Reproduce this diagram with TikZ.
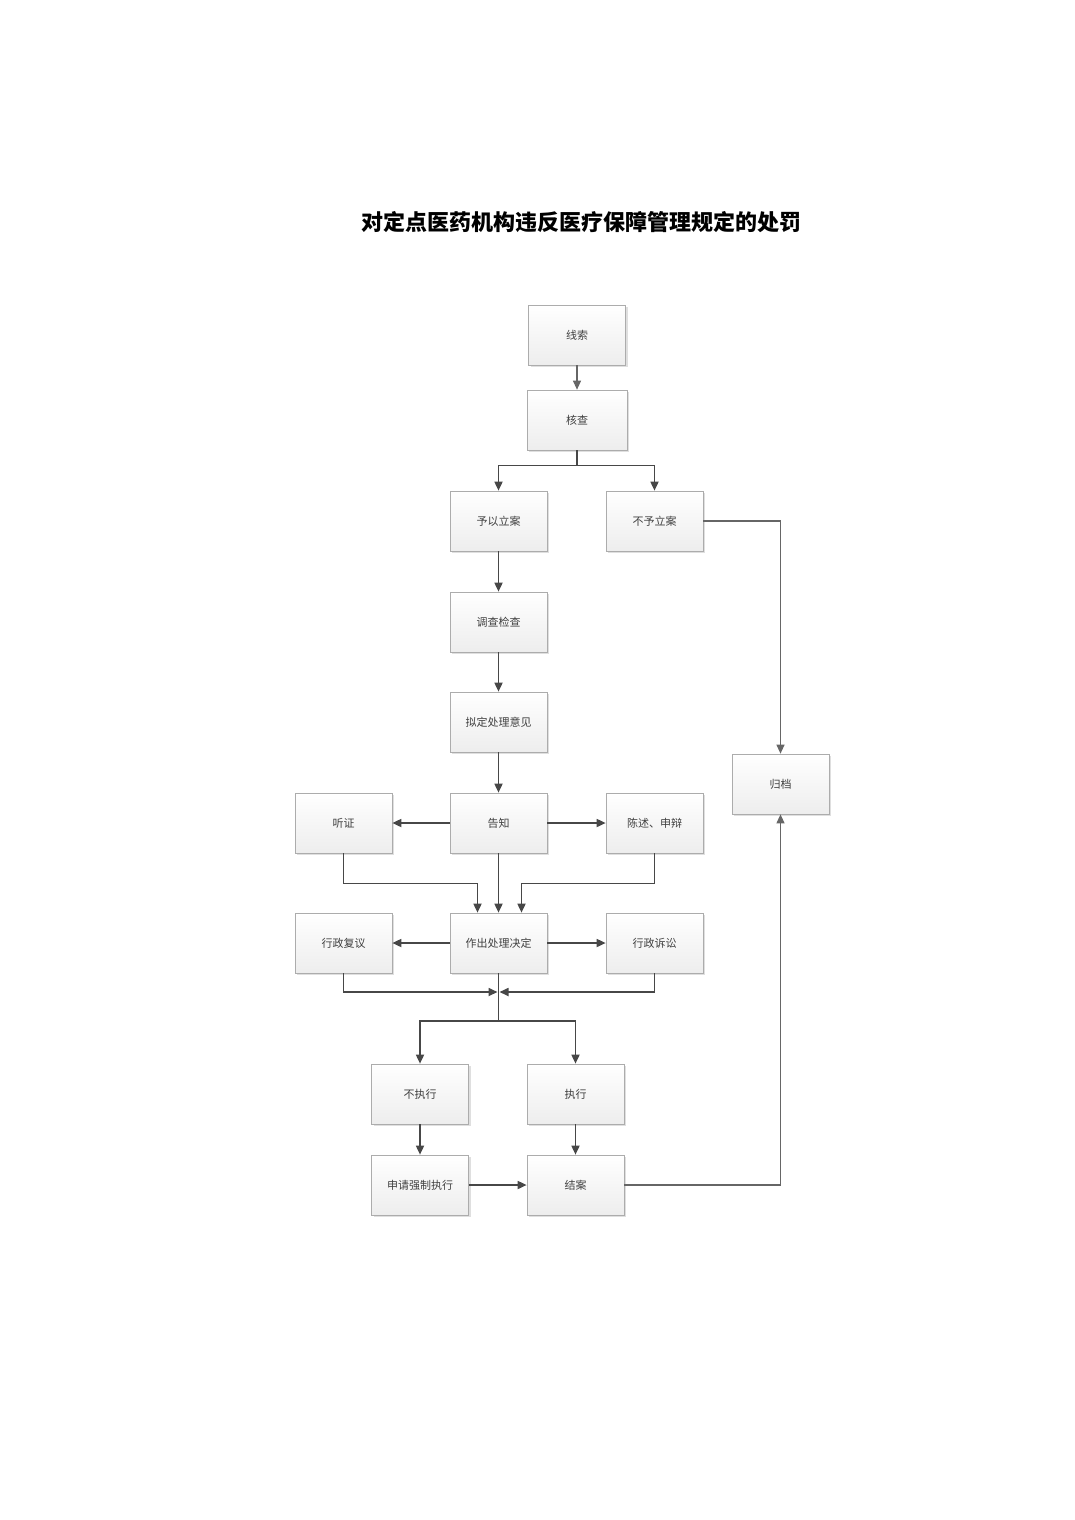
\documentclass[tikz,border=0pt]{standalone}
\usepackage{fontspec}
\newfontfamily\cjk{Noto Sans CJK SC}
\usetikzlibrary{arrows.meta,shadows}
\begin{document}
\begin{tikzpicture}[x=1pt,y=-1pt,
  box/.style={draw=gray!65, line width=0.7pt, top color=white, bottom color=gray!14,
    minimum width=97pt, minimum height=60pt, inner sep=0pt,
    font=\cjk\fontsize{11}{13}\selectfont, text=black!75,
    drop shadow={shadow xshift=2pt, shadow yshift=-2pt, opacity=0.25, fill=gray}},
  arr/.style={draw=black!72, line width=1.7pt, -{Triangle[length=9pt,width=8pt]}},
  thin/.style={draw=black!60, line width=1.1pt, -{Triangle[length=9pt,width=8pt]}},
  ln/.style={draw=black!72, line width=1.7pt}]
\useasboundingbox (0,0) rectangle (1075,1520);
\fill[white] (0,0) rectangle (1075,1520);
\node[font=\cjk\bfseries\fontsize{22}{26}\selectfont] (title) at (581,222) {对定点医药机构违反医疗保障管理规定的处罚};
\node[box] (xs) at (577,335) {线索};
\node[box, minimum width=100pt] (hc) at (577,420) {核查};
\node[box] (yl) at (498.5,521) {予以立案};
\node[box] (by) at (654.5,521) {不予立案};
\node[box] (dc) at (498.5,622) {调查检查};
\node[box] (nd) at (498.5,722) {拟定处理意见};
\node[box] (gz) at (498.5,823) {告知};
\node[box] (tz) at (343.5,823) {听证};
\node[box] (cs) at (654.5,823) {陈述、申辩};
\node[box] (gd) at (780.5,784) {归档};
\node[box] (zc) at (498.5,943) {作出处理决定};
\node[box] (fy) at (343.5,943) {行政复议};
\node[box] (ss) at (654.5,943) {行政诉讼};
\node[box] (bzx) at (420,1094) {不执行};
\node[box] (zx) at (575.5,1094) {执行};
\node[box] (sq) at (420,1185) {申请强制执行};
\node[box] (ja) at (575.5,1185) {结案};
\coordinate (j) at (498.5,992);
\coordinate (k) at (498.5,1021);
\draw[thin] (xs) -- (hc);
\draw[arr] (hc.south) -- ++(0,15) -| (yl.north);
\draw[arr] (hc.south) -- ++(0,15) -| (by.north);
\draw[thin] (by.east) -| (gd.north);
\draw[arr] (yl) -- (dc);
\draw[arr] (dc) -- (nd);
\draw[arr] (nd) -- (gz);
\draw[arr] (gz) -- (tz);
\draw[arr] (gz) -- (cs);
\draw[arr] (gz) -- (zc);
\draw[arr] (tz.south) -- ++(0,30) -| ([xshift=-21pt]zc.north);
\draw[arr] (cs.south) -- ++(0,30) -| ([xshift=23pt]zc.north);
\draw[arr] (zc) -- (fy);
\draw[arr] (zc) -- (ss);
\draw[arr] (fy.south) |- ([xshift=-1pt]j);
\draw[arr] (ss.south) |- ([xshift=1pt]j);
\draw[ln] (zc.south) -- (k);
\draw[arr] (k) -| (bzx.north);
\draw[arr] (k) -| (zx.north);
\draw[arr] (bzx) -- (sq);
\draw[arr] (zx) -- (ja);
\draw[arr] (sq) -- (ja);
\draw[thin] (ja.east) -| (gd.south);
\end{tikzpicture}
\end{document}
